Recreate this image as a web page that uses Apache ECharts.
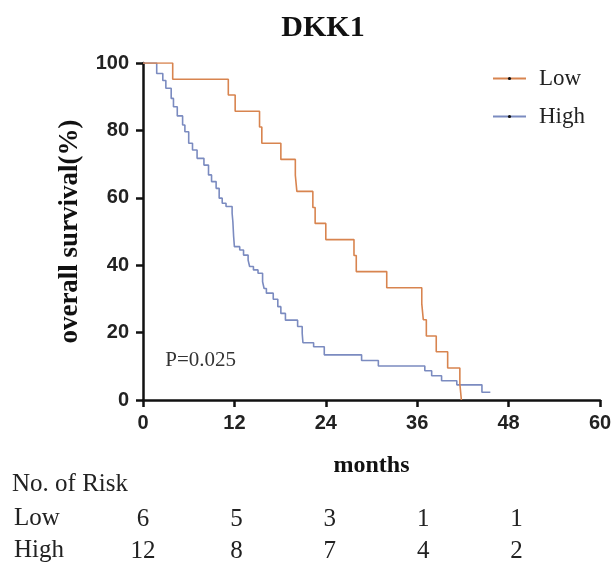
<!DOCTYPE html>
<html>
<head>
<meta charset="utf-8">
<script src="https://cdn.jsdelivr.net/npm/echarts@6/dist/echarts.min.js"></script>
<style>html,body{margin:0;padding:0;background:#fff}#c{width:616px;height:565px}</style>
</head>
<body>
<div id="c"></div>
<script>
// Kaplan-Meier step points [month, survival %]
var lowSurvival = [[0,100],[3.9,95.2],[11.2,90.5],[12.1,85.7],[15.3,81.0],[15.6,76.2],[18.1,71.4],[20.0,66.7],[20.2,61.9],[22.3,57.1],[22.6,52.4],[24.0,47.6],[27.7,42.9],[28.0,38.1],[32.0,33.3],[36.6,28.6],[36.8,23.8],[37.2,19.0],[38.5,14.3],[40.0,9.5],[41.6,4.8],[41.8,0]];
var highSurvival = [[0,100],[1.8,96.9],[2.6,94.8],[3.0,92.5],[3.7,89.5],[4.0,87.0],[4.5,84.3],[5.2,81.6],[5.5,79.6],[6.0,76.2],[6.5,74.2],[7.1,71.7],[8.0,69.7],[8.6,66.8],[9.0,64.8],[9.6,62.8],[10.0,59.9],[10.4,58.4],[10.9,57.4],[11.7,55.4],[11.8,52.9],[11.9,48.5],[12.0,45.5],[12.7,44.5],[13.2,43.0],[13.8,41.5],[14.0,39.6],[14.5,38.6],[15.1,37.6],[15.7,35.1],[15.9,33.1],[16.2,31.7],[17.1,29.9],[17.7,27.7],[18.1,25.7],[18.7,23.7],[20.3,21.8],[20.9,19.8],[21.0,17.0],[22.4,15.8],[23.8,13.4],[28.7,11.7],[30.9,10.1],[37.0,8.7],[37.9,7.2],[39.2,5.7],[41.2,4.5],[44.5,2.3],[45.6,2.3]];
var seriesNames = ['Low', 'High'];
var riskTimes = [0, 12, 24, 36, 48];
var riskLow = [6, 5, 3, 1, 1];
var riskHigh = [12, 8, 7, 4, 2];
var titleText = 'DKK1';
var pText = 'P=0.025';

var serif = "'Liberation Serif', 'Times New Roman', serif";
var sans = "'Liberation Sans', Arial, sans-serif";
var lowColor = '#d8844f';
var highColor = '#7b8bc0';

var chart = echarts.init(document.getElementById('c'), null, {renderer: 'canvas'});
var option = {
  animation: false,
  backgroundColor: '#fff',
  title: {
    text: titleText, left: 318, top: 8, textAlign: 'center',
    textStyle: {fontFamily: serif, fontWeight: 'bold', fontSize: 30, color: '#111'}
  },
  legend: {
    orient: 'vertical', left: 487, top: 62, itemWidth: 33, itemHeight: 4, itemGap: 15,
    data: seriesNames,
    textStyle: {fontFamily: serif, fontSize: 23, color: '#222', padding: [0, 0, 0, 8]}
  },
  grid: {left: 143, right: 16, top: 63, bottom: 165, containLabel: false},
  xAxis: {
    type: 'value', min: 0, max: 60, interval: 12,
    name: 'months', nameLocation: 'middle', nameGap: 54,
    nameTextStyle: {fontFamily: serif, fontWeight: 'bold', fontSize: 24, color: '#111'},
    axisLine: {lineStyle: {color: '#111', width: 2.5}},
    axisTick: {show: true, length: 7, lineStyle: {color: '#111', width: 2.5}},
    axisLabel: {fontFamily: sans, fontWeight: 'bold', fontSize: 20, color: '#222', margin: 13},
    splitLine: {show: false}
  },
  yAxis: {
    type: 'value', min: 0, max: 100, interval: 20,
    name: 'overall survival(%)', nameLocation: 'middle', nameGap: 59,
    nameTextStyle: {fontFamily: serif, fontWeight: 'bold', fontSize: 27, color: '#111'},
    axisLine: {show: true, lineStyle: {color: '#111', width: 2.5}},
    axisTick: {show: true, length: 7, lineStyle: {color: '#111', width: 2.5}},
    axisLabel: {fontFamily: sans, fontWeight: 'bold', fontSize: 20, color: '#222', margin: 14},
    splitLine: {show: false}
  },
  series: [
    {name: seriesNames[0], type: 'line', step: 'end', data: lowSurvival, showSymbol: false,
     symbol: 'circle', symbolSize: 3, itemStyle: {color: '#111'},
     lineStyle: {color: lowColor, width: 1.6}, z: 3},
    {name: seriesNames[1], type: 'line', step: 'end', data: highSurvival, showSymbol: false,
     symbol: 'circle', symbolSize: 3, itemStyle: {color: '#111'},
     lineStyle: {color: highColor, width: 1.6}, z: 2}
  ]
};
chart.setOption(option);

var g = [];
var p0 = chart.convertToPixel({gridIndex: 0}, [2, 0]);
g.push({type: 'text', left: p0[0] + 7, top: 350,
  style: {text: pText, font: '21px ' + serif, fill: '#333'}});
g.push({type: 'text', left: 12, top: 472,
  style: {text: 'No. of Risk', font: '25px ' + serif, fill: '#222'}});
g.push({type: 'text', left: 14, top: 506,
  style: {text: seriesNames[0], font: '25px ' + serif, fill: '#222'}});
g.push({type: 'text', left: 14, top: 538,
  style: {text: seriesNames[1], font: '25px ' + serif, fill: '#222'}});
riskTimes.forEach(function (t, i) {
  var x = chart.convertToPixel({xAxisIndex: 0}, t) + i * 2;
  g.push({type: 'text', x: x, y: 519,
    style: {text: String(riskLow[i]), font: '25px ' + serif, fill: '#222', align: 'center', verticalAlign: 'middle'}});
  g.push({type: 'text', x: x, y: 551,
    style: {text: String(riskHigh[i]), font: '25px ' + serif, fill: '#222', align: 'center', verticalAlign: 'middle'}});
});
chart.setOption({graphic: g});
</script>
</body>
</html>
